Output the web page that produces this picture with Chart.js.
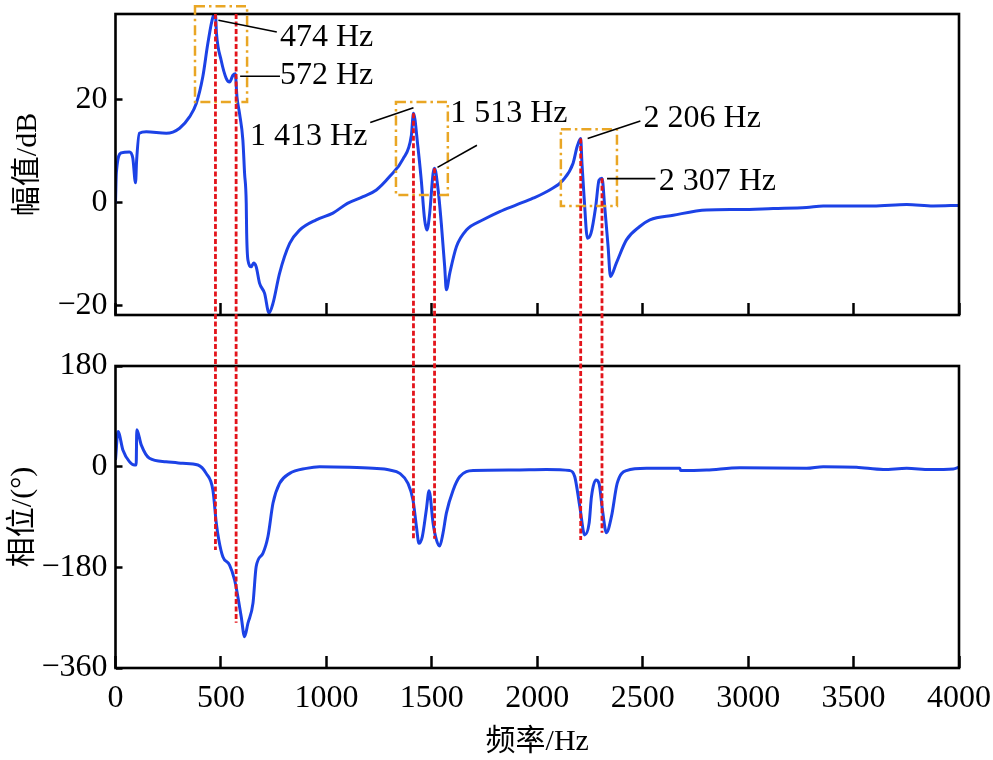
<!DOCTYPE html>
<html>
<head>
<meta charset="utf-8">
<script src="https://cdn.jsdelivr.net/npm/chart.js@4.4.1/dist/chart.umd.min.js"></script>
<style>
  body { margin: 0; background: #fff; }
  #wrap { position: relative; width: 993px; height: 760px; background: #fff; }
  #wrap canvas { position: absolute; left: 0; top: 0; }
</style>
</head>
<body>
<div id="wrap">
  <canvas id="magChart" width="993" height="760"></canvas>
  <canvas id="phaseChart" width="993" height="760"></canvas>
</div>
<script>
// magnitude curve (Hz, dB)
const freqMag = [0, 4, 27, 66, 82, 95, 100, 113, 146, 241, 304, 351, 383, 414, 438, 462, 474, 479, 501, 525,
  541, 557, 568, 576, 588, 604, 612, 620, 622, 628, 644, 655, 667, 683, 707, 728, 747, 778, 826, 873,
  952, 1031, 1100, 1174, 1237, 1300, 1363, 1403, 1413, 1434, 1450, 1466, 1477, 1490, 1506, 1513, 1530, 1545, 1561, 1569,
  1585, 1617, 1664, 1743, 1822, 1901, 1980, 2059, 2122, 2170, 2189, 2206, 2212, 2222, 2238, 2255, 2277, 2293, 2307, 2320,
  2336, 2347, 2375, 2423, 2486, 2534, 2645, 2803, 2961, 3119, 3277, 3356, 3593, 3752, 3878, 4000];
const magDb = [-0.2, 5.7, 9.6, 9.8, 8.6, 3.8, 8.0, 13.4, 13.7, 13.4, 14.4, 16.6, 19.2, 24.4, 30.9, 36.0, 36.5, 32.8, 27.6, 24.1,
  23.4, 24.7, 25.0, 20.5, 17.3, 12.1, 5.7, -0.2, -6.0, -11.2, -12.5, -11.8, -12.5, -15.7, -17.7, -21.5, -19.6, -13.8, -8.0, -5.4,
  -3.4, -2.1, -0.2, 1.1, 2.4, 5.0, 8.4, 13.0, 17.3, 10.8, 4.3, -3.4, -5.4, -2.1, 5.6, 6.6, 2.4, -4.1, -12.5, -17.0,
  -13.8, -8.6, -5.4, -3.4, -1.8, -0.5, 0.8, 2.4, 4.3, 7.6, 10.8, 12.4, 7.6, 1.1, -7.0, -6.0, -0.9, 4.3, 4.7, -0.9,
  -8.6, -14.4, -11.8, -7.3, -4.7, -3.4, -2.5, -1.5, -1.4, -1.2, -1.0, -0.7, -0.7, -0.4, -0.7, -0.6];

// phase curve (Hz, deg)
const freqPhase = [0, 12, 35, 66, 90, 98, 101, 122, 161, 240, 319, 391, 430, 462, 478, 490, 509, 541, 565, 580,
  596, 612, 628, 652, 667, 699, 723, 747, 778, 826, 905, 968, 1110, 1221, 1300, 1348, 1387, 1411, 1427, 1439,
  1455, 1474, 1487, 1506, 1522, 1537, 1553, 1569, 1601, 1632, 1696, 1885, 2043, 2154, 2178, 2202, 2225, 2246, 2257, 2278,
  2293, 2309, 2328, 2352, 2379, 2423, 2518, 2676, 2680, 2803, 2961, 3277, 3356, 3514, 3641, 3752, 3862, 3973, 4000];
const phaseDeg = [12, 63, 30, 9, 3, 3, 66, 39, 15, 9, 6, 3, -12, -42, -101, -131, -161, -176, -203, -232,
  -268, -304, -280, -244, -179, -155, -125, -65, -30, -12, -3, 0, -1, -3, -6, -12, -30, -60, -107, -137,
  -125, -77, -43, -101, -131, -142, -119, -83, -42, -18, -7, -6, -5, -7, -18, -72, -122, -101, -54, -24,
  -30, -77, -118, -89, -30, -7, -3, -3, -7, -6, -2, -3, 0, -1, -5, -3, -5, -4, -1];

const xTicks = [0, 500, 1000, 1500, 2000, 2500, 3000, 3500, 4000];
const magTicks = [-20, 0, 20];
const phaseTicks = [-360, -180, 0, 180];

// resonance markers
const markerHz = [474, 572, 1413, 1513, 2206, 2307];
const markerLabels = ['474 Hz', '572 Hz', '1 413 Hz', '1 513 Hz', '2 206 Hz', '2 307 Hz'];
const markerMagTop = [36.6, 36.6, 17.3, 6.6, 12.4, 4.7];
const markerPhaseEnd = [-149, -279, -131, -129, -131, -118];

// highlighted regions (Hz range, dB range)
const boxHz = [[377, 624], [1330, 1576], [2112, 2378]];
const boxDb = [[38.1, 19.5], [19.5, 1.4], [14.2, -0.7]];

// where the labels and their leader lines go, in data units of the top plot
const labelPlace = [
  { text: [780, 32.1], line: [[488, 35.4], [765, 33.1]] },
  { text: [780, 24.7], line: [[591, 24.5], [780, 24.5]] },
  { text: [638, 12.7], line: [[1413, 18.4], [1208, 15.5]] },
  { text: [1587, 17.2], line: [[1527, 6.8], [1714, 11.1]] },
  { text: [2504, 16.2], line: [[2239, 12.4], [2489, 15.8]] },
  { text: [2576, 4.1], line: [[2331, 4.6], [2560, 4.6]] }
];

const serif = '"Liberation Serif", "Noto Sans CJK SC", serif';
const blue = 'rgb(28, 66, 230)';
Chart.defaults.font.family = serif;
Chart.defaults.color = '#000';

const toPoints = (xs, ys) => xs.map((x, i) => ({ x: x, y: ys[i] }));
const minusLabel = (v) => v < 0 ? '\u2212' + (-v) : String(v);

const frame = {
  id: 'frame',
  afterDatasetsDraw(chart) {
    const a = chart.chartArea;
    const ctx = chart.ctx;
    ctx.save();
    ctx.strokeStyle = '#000';
    ctx.lineWidth = 2.6;
    ctx.strokeRect(a.left, a.top, a.right - a.left, a.bottom - a.top);
    ctx.restore();
  }
};

const xScale = (showLabels) => ({
  type: 'linear',
  min: 0,
  max: 4000,
  afterBuildTicks: (s) => { s.ticks = xTicks.map(v => ({ value: v })); },
  afterFit: (s) => {
    s.height = showLabels ? 92 : 0;
    s.paddingLeft = 0;
    s.paddingRight = 0;
  },
  border: { display: false },
  grid: { drawOnChartArea: false, drawTicks: true, tickLength: -12, tickWidth: 2.5, tickColor: '#000' },
  ticks: { display: showLabels, padding: 23, font: { size: 32 }, color: '#000', maxRotation: 0, callback: (v) => String(v) },
  title: { display: showLabels, text: '频率/Hz', font: { size: 30 }, padding: { top: 0, bottom: 0 }, color: '#000' }
});

const yScale = (min, max, ticks, title, titlePad) => ({
  type: 'linear',
  min: min,
  max: max,
  afterBuildTicks: (s) => { s.ticks = ticks.map(v => ({ value: v })); },
  afterFit: (s) => {
    s.width = 115.5;
    s.paddingTop = 0;
    s.paddingBottom = 0;
  },
  border: { display: false },
  grid: { drawOnChartArea: false, drawTicks: true, tickLength: -7, tickWidth: 2.5, tickColor: '#000' },
  ticks: { padding: 15, font: { size: 32 }, color: '#000', callback: minusLabel },
  title: { display: true, text: title, font: { size: 30 }, padding: { top: titlePad, bottom: 0 }, color: '#000' }
});

const lineDataset = (xs, ys) => ({
  data: toPoints(xs, ys),
  borderColor: blue,
  borderWidth: 3,
  pointRadius: 0,
  cubicInterpolationMode: 'monotone',
  fill: false
});

const baseOptions = {
  responsive: false,
  devicePixelRatio: 1,
  animation: false,
  plugins: { legend: { display: false }, tooltip: { enabled: false } }
};

const magChart = new Chart(document.getElementById('magChart'), {
  type: 'line',
  data: { datasets: [lineDataset(freqMag, magDb)] },
  options: {
    ...baseOptions,
    layout: { padding: { top: 14, left: 0, right: 34, bottom: 445 } },
    scales: {
      x: xScale(false),
      y: yScale(-21.9, 36.6, magTicks, '幅值/dB', 10)
    }
  },
  plugins: [frame]
});

const marks = {
  id: 'marks',
  afterDraw(chart) {
    const ctx = chart.ctx;
    const mx = magChart.scales.x;
    const my = magChart.scales.y;
    const py = chart.scales.y;
    const pt = (p) => [mx.getPixelForValue(p[0]), my.getPixelForValue(p[1])];
    ctx.save();

    // orange dash-dot boxes
    ctx.strokeStyle = '#e9a624';
    ctx.lineWidth = 2.5;
    ctx.setLineDash([10, 4, 2.5, 4]);
    boxHz.forEach((b, i) => {
      const x1 = mx.getPixelForValue(b[0]);
      const x2 = mx.getPixelForValue(b[1]);
      const y1 = my.getPixelForValue(boxDb[i][0]);
      const y2 = my.getPixelForValue(boxDb[i][1]);
      ctx.strokeRect(x1, y1, x2 - x1, y2 - y1);
    });

    // red dotted lines joining both plots
    ctx.strokeStyle = '#e3141b';
    ctx.lineWidth = 2.8;
    ctx.setLineDash([5, 2.5]);
    markerHz.forEach((hz, i) => {
      const x = mx.getPixelForValue(hz);
      ctx.beginPath();
      ctx.moveTo(x, my.getPixelForValue(markerMagTop[i]));
      ctx.lineTo(x, py.getPixelForValue(markerPhaseEnd[i]));
      ctx.stroke();
    });

    // leader lines and labels
    ctx.setLineDash([]);
    ctx.strokeStyle = '#000';
    ctx.lineWidth = 1.6;
    ctx.fillStyle = '#000';
    ctx.font = '32px "Liberation Serif", serif';
    ctx.textAlign = 'left';
    ctx.textBaseline = 'middle';
    labelPlace.forEach((l, i) => {
      const a = pt(l.line[0]);
      const b = pt(l.line[1]);
      ctx.beginPath();
      ctx.moveTo(a[0], a[1]);
      ctx.lineTo(b[0], b[1]);
      ctx.stroke();
      const t = pt(l.text);
      ctx.fillText(markerLabels[i], t[0], t[1]);
    });
    ctx.restore();
  }
};

const phaseChart = new Chart(document.getElementById('phaseChart'), {
  type: 'line',
  data: { datasets: [lineDataset(freqPhase, phaseDeg)] },
  options: {
    ...baseOptions,
    layout: { padding: { top: 366, left: 0, right: 34, bottom: 0 } },
    scales: {
      x: xScale(true),
      y: yScale(-360, 180, phaseTicks, '相位/(°)', 5)
    }
  },
  plugins: [frame, marks]
});
</script>
</body>
</html>
